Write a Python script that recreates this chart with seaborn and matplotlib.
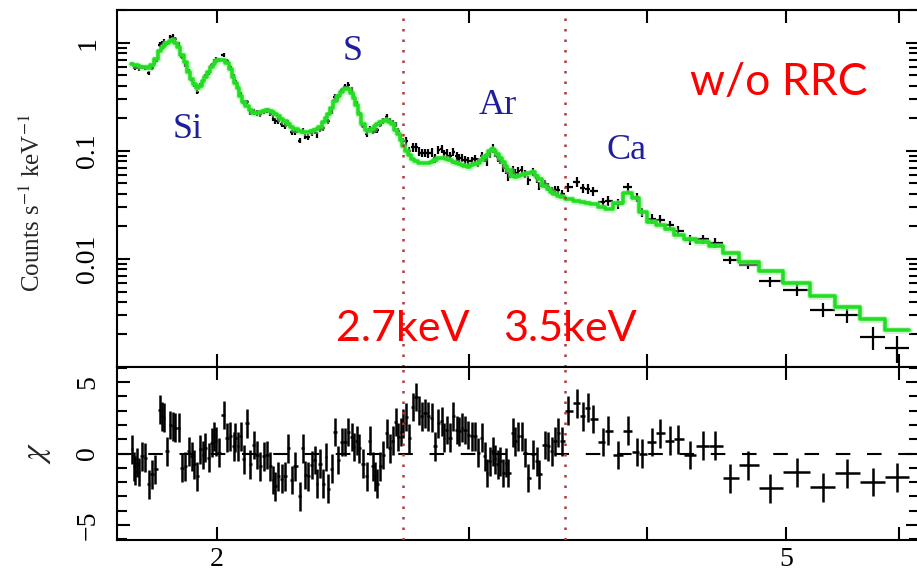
import numpy as np
import matplotlib
matplotlib.use("Agg")
import matplotlib.pyplot as plt
import seaborn as sns
from matplotlib.ticker import FixedLocator, NullLocator, LogLocator, MultipleLocator, FuncFormatter, NullFormatter

# ---------------- data ----------------
energy_kev = [
    1.744, 1.750, 1.753, 1.758, 1.763, 1.772, 1.782, 1.792, 1.801, 1.811,
    1.824, 1.830, 1.836, 1.845, 1.855, 1.863, 1.870, 1.880, 1.890, 1.900,
    1.911, 1.921, 1.928, 1.937, 1.947, 1.955, 1.963, 1.973, 1.984, 1.991,
    1.998, 2.005, 2.022, 2.032, 2.043, 2.054, 2.060, 2.068, 2.079, 2.088,
    2.099,
    2.110, 2.122, 2.133, 2.144, 2.156, 2.168, 2.179, 2.190, 2.196, 2.208,
    2.220, 2.232, 2.243, 2.256, 2.268, 2.286, 2.296, 2.305, 2.317, 2.330,
    2.342, 2.348, 2.361, 2.373, 2.384, 2.393, 2.406, 2.419, 2.431,
    2.445, 2.458, 2.471, 2.484, 2.494, 2.504, 2.515, 2.531, 2.545, 2.559,
    2.570, 2.579, 2.589, 2.600, 2.614, 2.628, 2.642, 2.654, 2.668, 2.678,
    2.690, 2.700,
    2.711, 2.726, 2.741, 2.756, 2.770, 2.781, 2.796, 2.811, 2.826, 2.841,
    2.856, 2.872, 2.883, 2.895, 2.911, 2.926, 2.942, 2.955, 2.966, 2.982,
    2.998, 3.014, 3.030, 3.046, 3.063, 3.080, 3.088, 3.104, 3.118, 3.130,
    3.143, 3.155, 3.172, 3.185, 3.197, 3.220, 3.232, 3.249, 3.267, 3.285,
    3.302, 3.329, 3.347, 3.361, 3.392, 3.410, 3.429, 3.447, 3.466, 3.485,
    3.520, 3.571, 3.605, 3.635, 3.664, 3.723, 3.754, 3.815, 3.876, 3.933,
    3.965, 4.029, 4.081, 4.148, 4.202, 4.284, 4.374, 4.460,
    4.569, 4.703, 4.872, 5.089, 5.307, 5.515, 5.751, 5.978,
]

counts = [
    0.644, 0.606, 0.594, 0.602, 0.579, 0.600, 0.587, 0.527, 0.589, 0.675,
    0.967, 1.005, 1.046, 1.007, 1.145, 1.151, 1.092, 0.984, 0.745, 0.633,
    0.547, 0.456, 0.406, 0.353, 0.405, 0.438, 0.489, 0.533, 0.620, 0.680,
    0.706, 0.698, 0.774, 0.681, 0.601, 0.491, 0.445, 0.389, 0.337, 0.281,
    0.285,
    0.229, 0.231, 0.226, 0.219, 0.232, 0.237, 0.222, 0.203, 0.191, 0.190,
    0.177, 0.170, 0.182, 0.149, 0.151, 0.125, 0.154, 0.136, 0.135, 0.146,
    0.154, 0.141, 0.161, 0.162, 0.197, 0.188, 0.234, 0.316, 0.316,
    0.365, 0.392, 0.409, 0.367, 0.318, 0.278, 0.224, 0.171, 0.144, 0.161,
    0.153, 0.154, 0.156, 0.175, 0.190, 0.208, 0.190, 0.185, 0.177, 0.154,
    0.136, 0.125,
    0.123, 0.0996, 0.1086, 0.1084, 0.0991, 0.0960, 0.0967, 0.0953, 0.0968, 0.0857,
    0.1023, 0.1046, 0.0943, 0.0967, 0.0901, 0.0982, 0.0890, 0.0866, 0.0866, 0.0827,
    0.0802, 0.0814, 0.0837, 0.0786, 0.0901, 0.0864, 0.0799, 0.0941, 0.1064, 0.0974,
    0.0877, 0.0827, 0.0699, 0.0678, 0.0580, 0.0667, 0.0624, 0.0654, 0.0663, 0.0618,
    0.0534, 0.0641, 0.0561, 0.0478, 0.0495, 0.0465, 0.0426, 0.0431, 0.0435, 0.0400,
    0.046, 0.052, 0.045, 0.0445, 0.0425, 0.0335, 0.0345, 0.0324, 0.046, 0.0375,
    0.027, 0.0236, 0.0232, 0.0205, 0.0182, 0.0151, 0.0152, 0.0141,
    0.0098, 0.0088, 0.0062, 0.0052, 0.0034, 0.0030, 0.0019, 0.0015,
]

model = [
    0.635, 0.632, 0.628, 0.620, 0.615, 0.605, 0.595, 0.583, 0.630, 0.710,
    0.850, 0.900, 0.940, 1.000, 1.050, 1.060, 1.010, 0.910, 0.780, 0.660,
    0.543, 0.460, 0.420, 0.380, 0.400, 0.440, 0.480, 0.540, 0.600, 0.645,
    0.680, 0.696, 0.690, 0.649, 0.570, 0.480, 0.424, 0.380, 0.320, 0.286,
    0.260,
    0.240, 0.223, 0.227, 0.231, 0.235, 0.238, 0.235, 0.228, 0.222, 0.210,
    0.198, 0.188, 0.178, 0.168, 0.160, 0.153, 0.151, 0.149, 0.149, 0.153,
    0.158, 0.161, 0.168, 0.185, 0.200, 0.220, 0.250, 0.290, 0.325,
    0.350, 0.375, 0.378, 0.345, 0.310, 0.265, 0.220, 0.178, 0.158, 0.153,
    0.161, 0.169, 0.176, 0.184, 0.191, 0.193, 0.186, 0.176, 0.158, 0.145,
    0.126, 0.112,
    0.100, 0.091, 0.084, 0.080, 0.078, 0.0778, 0.0772, 0.0772, 0.0790, 0.082,
    0.086, 0.087, 0.0858, 0.0842, 0.082, 0.0796, 0.0775, 0.0760, 0.0745, 0.072,
    0.0718, 0.0735, 0.0755, 0.0782, 0.082, 0.088, 0.091, 0.099, 0.105, 0.101,
    0.094, 0.087, 0.0796, 0.072, 0.066, 0.059, 0.058, 0.059, 0.0598, 0.0615,
    0.063, 0.0644, 0.059, 0.055, 0.047, 0.0445, 0.042, 0.040, 0.0385, 0.0372,
    0.0362, 0.0343, 0.0336, 0.0330, 0.0320, 0.0305, 0.0290, 0.0327, 0.0406, 0.0370,
    0.0270, 0.0220, 0.0206, 0.0190, 0.0168, 0.0153, 0.0145, 0.0133,
    0.0113, 0.0094, 0.0078, 0.0060, 0.0045, 0.00357, 0.0028, 0.0022,
]

chi = [
    0.3, -0.9, -1.2, -0.65, -1.3, -0.2, -0.3, -2.15, -1.45, -1.1,
    3.05, 2.6, 2.5, 0.15, 2.0, 1.9, 1.8, 1.8, -1.0, -0.9,
    0.15, -0.2, -0.75, -1.6, 0.3, -0.1, 0.4, -0.3, 0.75, 1.2,
    0.85, 0.05, 2.7, 1.1, 1.2, 0.5, 1.1, 0.5, 1.2, -0.4,
    2.1,
    -0.75, 0.6, -0.1, -0.9, -0.2, -0.1, -0.9, -1.85, -2.3, -1.6,
    -1.75, -1.6, 0.35, -1.85, -0.9, -3.0, 0.35, -1.5, -1.6, -0.8,
    -0.45, -2.1, -0.7, -2.1, -0.25, -2.45, -1.05, 1.5, -0.45,
    0.8, 0.8, 1.5, 1.15, 0.45, 0.9, 0.35, -0.7, -1.6, 0.9,
    -0.9, -1.6, -2.1, -0.9, -0.1, 1.4, 0.35, 0.9, 2.2, 1.15,
    1.5, 2.1,
    2.55, 1.05, 3.25, 3.95, 3.0, 2.6, 2.8, 2.6, 2.5, 0.5,
    2.1, 2.25, 1.1, 1.65, 1.1, 2.6, 1.65, 1.55, 1.8, 1.65,
    1.3, 1.2, 1.2, 0.05, 1.1, -0.2, -1.35, -0.55, 0.15, -0.4,
    -0.75, -0.55, -1.35, -0.65, -1.35, 1.45, 0.85, 1.2, 1.2, 0.05,
    -1.7, -0.05, -0.55, -1.45, 0.6, 0.5, 0.15, 0.85, 1.45, 0.85,
    3.0, 3.5, 2.6, 3.2, 2.4, 0.8, 1.6, -0.1, 1.6, 0.1,
    0.0, 0.8, 1.4, 0.9, 1.0, -0.1, 0.55, 0.55,
    -1.74, -0.83, -2.43, -1.32, -2.36, -1.39, -2.0, -1.67,
]

# fractional 1-sigma error of each count-rate bin
rel_err = (
    [0.045] * 41 + [0.06] * 29 + [0.055] * 22 + [0.09] * 50 + [0.10] * 18
    + [0.09, 0.08, 0.11, 0.12, 0.14, 0.14, 0.24, 0.28]
)

line_energies = [2.7, 3.5]
line_labels = ["2.7keV", "3.5keV"]
element_labels = ["Si", "S", "Ar", "Ca"]
element_pos_kev = [1.909, 2.49, 3.144, 3.870]
element_pos_counts = [0.157, 0.826, 0.261, 0.102]

assert len(energy_kev) == len(counts) == len(model) == len(chi) == len(rel_err)

# ---------------- derived bin geometry ----------------
E = np.array(energy_kev)
C = np.array(counts)
M = np.array(model)
X = np.array(chi)
mid = np.sqrt(E[:-1] * E[1:])
edges = np.concatenate([[E[0] ** 2 / mid[0]], mid, [E[-1] ** 2 / mid[-1]]])
xerr = np.vstack([E - edges[:-1], edges[1:] - E])
yerr = C * np.array(rel_err)

# ---------------- style ----------------
sns.set_theme(style="ticks")
plt.rcParams["font.family"] = ["Liberation Serif", "DejaVu Serif"]
plt.rcParams["mathtext.fontset"] = "stix"
plt.rcParams["axes.linewidth"] = 1.5

fig = plt.figure(figsize=(9.17, 5.74), dpi=100)
fig.patch.set_facecolor("white")
W, H = 917.0, 574.0
ax1 = fig.add_axes([117 / W, 1 - 367 / H, 802 / W, 357 / H])
ax2 = fig.add_axes([117 / W, 1 - 540 / H, 802 / W, 173 / H])

green = "#22dd22"
dotred = "#b23a3a"

# upper panel: data crosses + model
ax1.errorbar(E, C, xerr=xerr, yerr=yerr, fmt="none", ecolor="black",
             elinewidth=1.6, capsize=0, zorder=2)
step_x = np.asarray(edges)
step_y = np.append(M, M[-1])
ax1.plot(step_x, step_y, drawstyle="steps-post", color="#a5f0a5", lw=5.0,
         alpha=0.5, zorder=3)
sns.lineplot(x=step_x, y=step_y, drawstyle="steps-post", color=green, lw=2.6,
             estimator=None, sort=False, ax=ax1, zorder=4)

# lower panel: residuals
ax2.axhline(0, color="black", lw=1.5, ls=(0, (7, 8)), zorder=1)
ax2.errorbar(E, X, xerr=xerr, yerr=np.ones_like(X), fmt="none", ecolor="black",
             elinewidth=1.8, capsize=0, zorder=2)

xmin, xmax = 1.7025, 6.194
for ax in (ax1, ax2):
    ax.set_xscale("log")
    ax.set_xlim(xmin, xmax)
    ax.xaxis.set_major_locator(FixedLocator([2, 3, 4, 5, 6]))
    ax.xaxis.set_minor_locator(NullLocator())
    ax.tick_params(which="both", direction="in", top=True, right=True,
                   width=1.5, colors="black", labelsize=20)
    ax.tick_params(which="major", length=9.5)
    ax.tick_params(which="minor", length=7)
    ax.set_xlabel("")
    ax.set_ylabel("")
    for e in line_energies:
        ax.axvline(e, color=dotred, lw=1.8, ls=(0, (1, 3.2)), zorder=5)
    for s in ax.spines.values():
        s.set_linewidth(1.5)
        s.set_color("black")

ax1.set_yscale("log")
ax1.set_ylim(1.0e-3, 2.02)
ax1.yaxis.set_major_locator(FixedLocator([0.01, 0.1, 1]))
ax1.yaxis.set_minor_locator(LogLocator(base=10, subs=np.arange(2, 10)))
ax1.yaxis.set_minor_formatter(NullFormatter())
ax1.yaxis.set_major_formatter(FuncFormatter(lambda v, p: {0.01: "0.01", 0.1: "0.1", 1: "1"}.get(round(v, 3), "")))
ax1.xaxis.set_major_formatter(NullFormatter())
ax1.tick_params(axis="y", pad=12)

ax2.set_ylim(-6.04, 6.04)
ax2.yaxis.set_major_locator(FixedLocator([-5, 0, 5]))
ax2.yaxis.set_minor_locator(MultipleLocator(1))
ax2.yaxis.set_major_formatter(FuncFormatter(lambda v, p: f"{int(v)}".replace("-", "\u2212")))
ax2.xaxis.set_major_formatter(FuncFormatter(lambda v, p: {2: "2", 5: "5"}.get(int(round(v)), "")))
ax2.tick_params(axis="y", pad=12)
ax2.tick_params(axis="x", pad=5)

for ax in (ax1, ax2):
    for lab in ax.get_yticklabels():
        lab.set_rotation(90)
        lab.set_va("center")
        lab.set_ha("right")

# axis titles
fig.text(32 / W, 1 - 203 / H, r"Counts s$^{-1}$ keV$^{-1}$", rotation=90,
         ha="center", va="center", fontsize=18)
fig.text(38 / W, 1 - 453 / H, r"$\chi$", rotation=90, ha="center",
         va="center", fontsize=24)

# element labels
for lab, ex, ey in zip(element_labels, element_pos_kev, element_pos_counts):
    ax1.text(ex, ey, lab, color="#1f1f9e", fontsize=26, ha="center",
             va="center", family=["Liberation Serif"], zorder=6)

# red annotations
red_font = ["Lato", "Liberation Sans", "DejaVu Sans"]
for lab, e in zip(line_labels, [2.698, 3.531]):
    ax1.text(e, 0.00225, lab, color="red", fontsize=31, ha="center",
             va="center", family=red_font, zorder=6)
ax1.text(4.944, 0.435, "w/o RRC", color="red", fontsize=32, ha="center",
         va="center", family=red_font, zorder=6)

fig.savefig("out.png", dpi=100, facecolor="white")
